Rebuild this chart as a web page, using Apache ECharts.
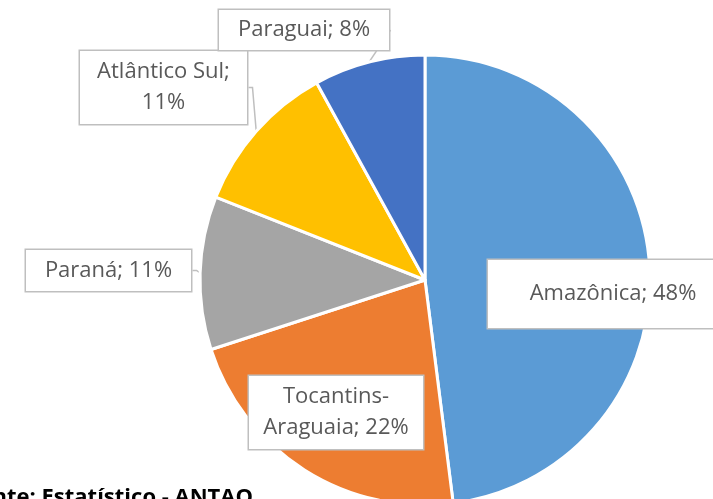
<!DOCTYPE html>
<html>
<head>
<meta charset="utf-8">
<script src="https://cdn.jsdelivr.net/npm/echarts@6/dist/echarts.min.js"></script>
<style>
  html, body { margin: 0; padding: 0; background: #fff; }
  #chart { width: 713px; height: 499px; }
</style>
</head>
<body>
<div id="chart"></div>
<script>
// data
const regions = ['Amazônica', 'Tocantins-Araguaia', 'Paraná', 'Atlântico Sul', 'Paraguai'];
const shares = [48, 22, 11, 11, 8];
const labelTexts = ['Amazônica; 48%', 'Tocantins-\nAraguaia; 22%', 'Paraná; 11%', 'Atlântico Sul;\n11%', 'Paraguai; 8%'];
const colors = ['#5B9BD5', '#ED7D31', '#A5A5A5', '#FFC000', '#4472C4'];

// callout boxes (left, top, width, height)
const boxes = [
    [488, 260, 250, 68],
    [249, 376, 174, 73],
    [22, 250, 165, 41],
    [80, 51, 167, 73],
    [219, 10, 170, 40]
];

const chart = echarts.init(document.getElementById('chart'));

const option = {
    animation: false,
    color: colors,
    graphic: [{
        type: 'text',
        right: 713 - 253,
        top: 487,
        style: {
            text: 'Fonte: Estatístico - ANTAQ',
            font: 'bold 22px "Open Sans"',
            fill: '#000'
        }
    }],
    series: [{
        type: 'pie',
        center: [425, 280],
        radius: 225,
        startAngle: 90,
        clockwise: true,
        avoidLabelOverlap: false,
        itemStyle: { borderColor: '#fff', borderWidth: 3 },
        label: {
            show: true,
            formatter: (p) => labelTexts[p.dataIndex],
            fontFamily: 'Open Sans',
            fontSize: 22,
            lineHeight: 31,
            color: '#595959',
            backgroundColor: '#fff',
            borderColor: '#bfbfbf',
            borderWidth: 1.5,
            align: 'center',
            verticalAlign: 'middle'
        },
        labelLine: {
            show: true,
            length: 6,
            length2: 4,
            lineStyle: { color: '#bfbfbf', width: 1.5 }
        },
        labelLayout: (p) => {
            const b = boxes[p.dataIndex];
            return {
                x: b[0] + b[2] / 2 + (p.dataIndex === 2 ? 4 : 0),
                y: b[1] + b[3] / 2,
                width: b[2],
                height: b[3],
                align: 'center',
                verticalAlign: 'middle'
            };
        },
        data: regions.map((name, i) => ({
            name: name,
            value: shares[i],
            label: { width: boxes[i][2] - 3, height: boxes[i][3] - 3 },
            labelLine: { show: i !== 0 }
        }))
    }]
};

chart.setOption(option);
</script>
</body>
</html>
